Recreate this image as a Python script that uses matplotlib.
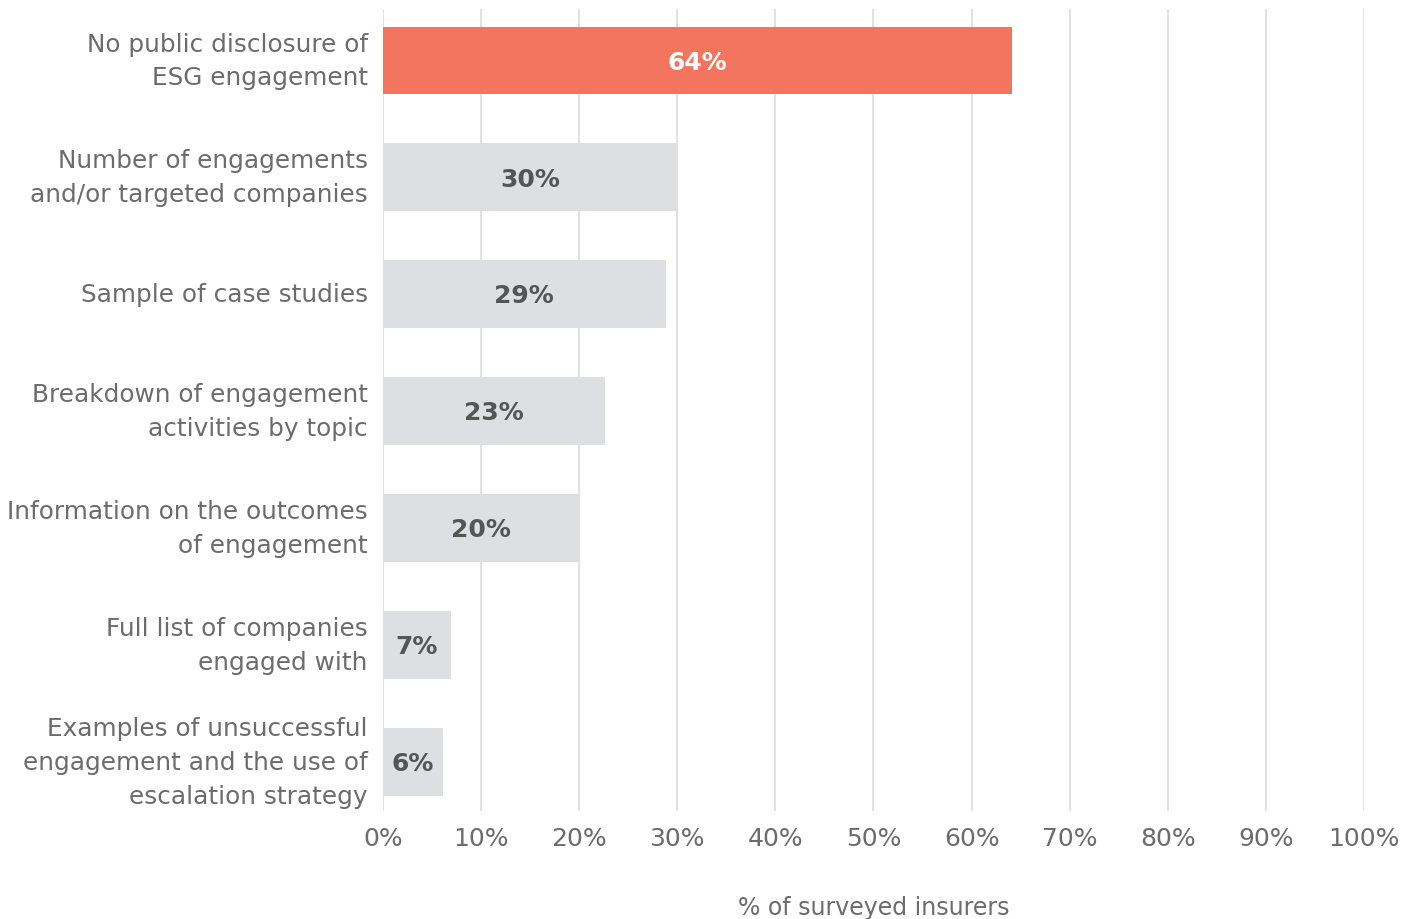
import matplotlib.pyplot as plt

categories = [
    'No public disclosure of\nESG engagement',
    'Number of engagements\nand/or targeted companies',
    'Sample of case studies',
    'Breakdown of engagement\nactivities by topic',
    'Information on the outcomes\nof engagement',
    'Full list of companies\nengaged with',
    'Examples of unsuccessful\nengagement and the use of\nescalation strategy',
]
values = [64.1, 30.0, 28.8, 22.6, 20.0, 6.9, 6.1]
value_labels = ['64%', '30%', '29%', '23%', '20%', '7%', '6%']
xticks = [0, 10, 20, 30, 40, 50, 60, 70, 80, 90, 100]

plt.rcParams['font.family'] = ['DejaVu Sans']

coral = '#F4755D'
grey = '#DEDFE3'
text_color = '#6C6C6C'

fig = plt.figure(figsize=(14.21, 9.2), dpi=100)
ax = fig.add_axes([0.2695, 0.1174, 0.6904, 0.8717])

colors = [coral] + [grey] * (len(values) - 1)
ypos = list(range(len(values)))
ax.barh(ypos, values, height=0.58, color=colors, zorder=2)

for y, v, lab, c in zip(ypos, values, value_labels, colors):
    tc = 'white' if c == coral else '#555555'
    ax.text(v / 2, y + 0.01, lab, ha='center', va='center', color=tc,
            fontsize=18, fontweight='bold', zorder=3)

ax.set_xlim(0, 100)
ax.set_ylim(6.42, -0.44)
ax.set_xticks(xticks)
ax.set_xticklabels([f'{t}%' for t in xticks], fontsize=18, color=text_color)
ax.set_yticks(ypos)
ax.set_yticklabels(categories, fontsize=17.8, color=text_color, linespacing=1.52,
                   va='center')
ax.tick_params(axis='both', length=0)
ax.tick_params(axis='y', pad=11)
ax.tick_params(axis='x', pad=11)

ax.grid(axis='x', color='#DCDCE0', linewidth=1.2, zorder=0)
ax.grid(axis='y', visible=False)
for s in ax.spines.values():
    s.set_visible(False)

ax.set_xlabel('% of surveyed insurers', fontsize=17, color=text_color,
              labelpad=32)

fig.savefig('out.png', dpi=100)
